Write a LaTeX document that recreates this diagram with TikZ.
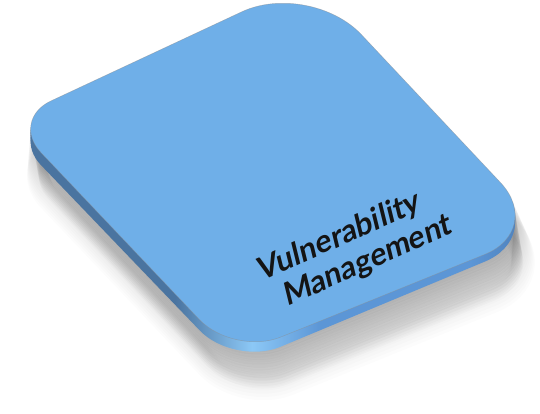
\documentclass[tikz,border=0pt]{standalone}
\usepackage{fontspec}
\newfontfamily\labelfont{Lato}
\definecolor{facecol}{RGB}{111,175,232}
\definecolor{banddark}{RGB}{74,116,160}
\definecolor{bandlight}{RGB}{140,200,246}
\definecolor{bandmid}{RGB}{92,150,214}
\definecolor{bandright}{RGB}{72,120,176}
\def\tile{(50.8,101.0) -- (242.0,11.7) .. controls (279.4,-5.7) and (333.1,4.6) .. (361.4,34.6)
  -- (500.5,182.6) .. controls (525.0,208.7) and (517.9,241.0) .. (484.8,254.4)
  -- (280.3,337.2) .. controls (254.8,347.5) and (218.5,339.7) .. (199.6,319.7)
  -- (41.0,152.6) .. controls (24.0,134.7) and (28.4,111.5) .. (50.8,101.0) -- cycle}
\tikzset{
  lbl/.style={font=\labelfont\bfseries\fontsize{31}{33}\selectfont, inner sep=0pt,
    text=black!92, rotate=24, xslant=0.18, anchor=base west}
}
\begin{document}
\begin{tikzpicture}[x=1pt,y=-1pt]
\path[use as bounding box, fill=white] (0,0) rectangle (540,413);
% soft shadow, smeared downwards and blurred
\foreach \j in {1,...,18} {
  \begin{scope}[shift={(0.45*\j,2.6*\j)}]
    \path[fill=black, fill opacity=0.018, draw=black, draw opacity=0.012,
          line width={1.3pt*\j}, line join=round] \tile;
  \end{scope}
}
% side band of the slab
\foreach \s in {0.2,0.4,0.6,0.8,1.0} {
  \pgfmathsetmacro\bsl{0.012*\s}
  \pgfmathsetmacro\bdy{-13*\s}
  \begin{scope}[cm={1,\bsl,0,1,(0pt,\bdy pt)}]
    \clip \tile;
    \fill[banddark] (0,-40) rectangle (175,430);
    \shade[left color=banddark, right color=bandlight] (175,-40) rectangle (252,430);
    \shade[left color=bandlight, right color=bandmid] (252,-40) rectangle (320,430);
    \fill[bandmid] (320,-40) rectangle (470,430);
    \shade[left color=bandmid, right color=bandright] (470,-40) rectangle (546,430);
  \end{scope}
}
% top face
\fill[facecol] \tile;
\draw[black!45, line width=0.5pt, opacity=0.5] \tile;
% label
\node[lbl] (v) at (261.5,281.5) {Vulnerability};
\node[lbl] (m) at (287,307) {Management};
\end{tikzpicture}
\end{document}
